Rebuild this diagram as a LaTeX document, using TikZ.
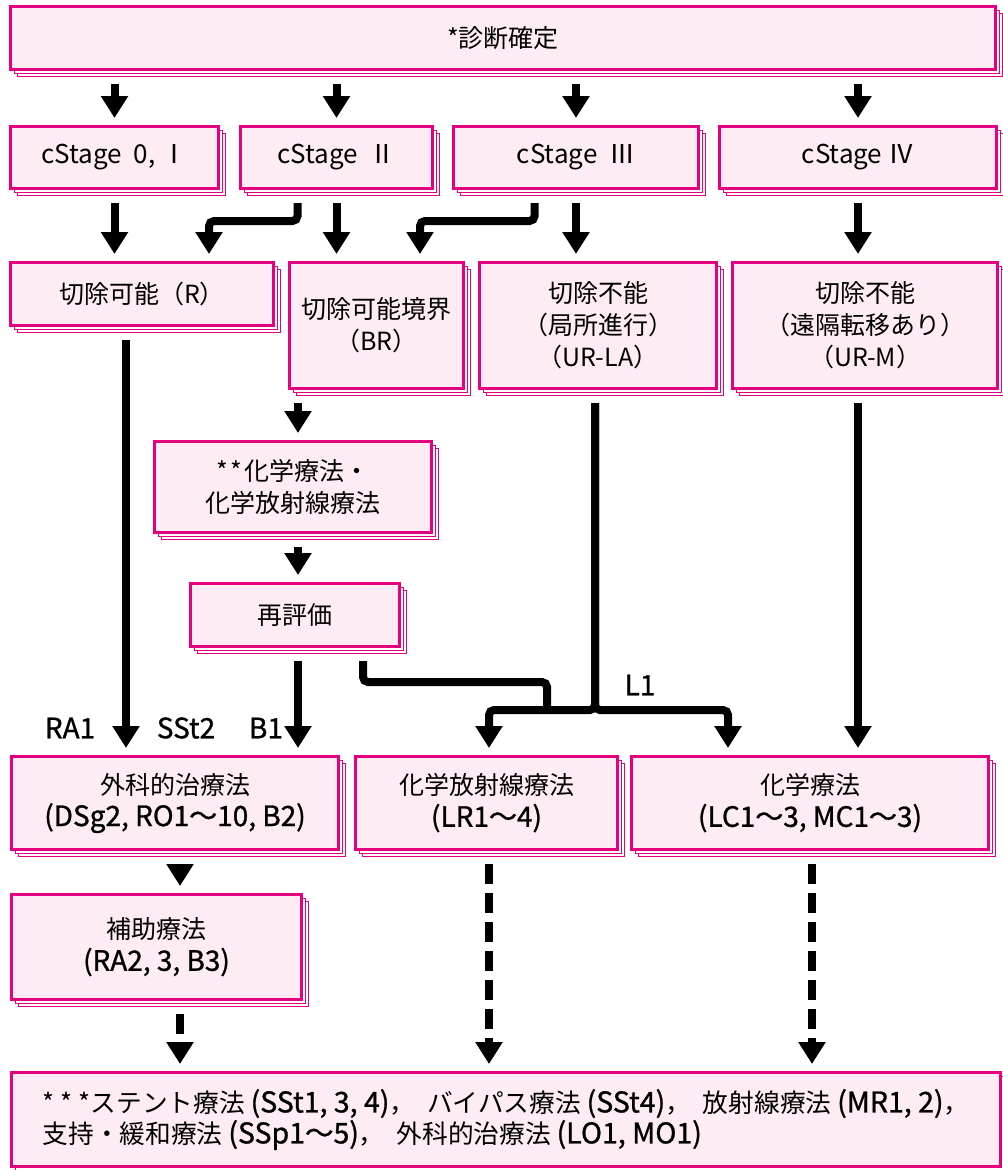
\documentclass[tikz,border=0pt]{standalone}
\usepackage{fontspec}
\setmainfont{Noto Sans CJK JP}
\newfontfamily\jpb{Noto Sans CJK JP}[FakeBold=1]
\newcommand\latb[1]{{\fontsize{28}{32}\selectfont\jpb #1}}
\newcommand\latc[1]{{\fontsize{28.5}{31}\selectfont\jpb #1}}
\usetikzlibrary{arrows.meta,shadows,calc}
\definecolor{pinkc}{HTML}{E4007F}
\definecolor{pinkf}{HTML}{FDECF4}
\begin{document}
\begin{tikzpicture}[x=1pt,y=-1pt,
 pk/.style={draw=pinkc, line width=3pt, fill=pinkf, inner sep=0pt, align=center,
   anchor=north west, font=\fontsize{25}{32}\selectfont,
   copy shadow={shadow xshift=7pt, shadow yshift=-7pt, draw=pinkc, line width=0.9pt, fill=white},
   copy shadow={shadow xshift=3.5pt, shadow yshift=-3.5pt, draw=pinkc, line width=0.9pt, fill=white}},
 stg/.style={pk, font=\fontsize{26}{32}\selectfont},
 arr/.style={line width=8pt, -{Triangle[width=26pt,length=22pt]}, shorten <=13pt, shorten >=7pt},
 seg/.style={line width=8pt, shorten <=13pt},
 darr/.style={arr, dash pattern=on 20pt off 9pt},
 lab/.style={font=\fontsize{28}{30}\selectfont\jpb, inner sep=0pt}
]
\fill[white] (0,0) rectangle (1002,1170);
\useasboundingbox (0,0) rectangle (1002,1170);

% boxes
\node[pk, minimum width=985, minimum height=63] (top) at (9,5) {*診断確定};
\node[stg, minimum width=208, minimum height=62] (s0) at (9,125) {cStage\ \ 0, Ⅰ};
\node[stg, minimum width=192, minimum height=62] (s2) at (239,125) {cStage\ \ Ⅱ};
\node[stg, minimum width=245, minimum height=62] (s3) at (452,125) {cStage\ \ Ⅲ};
\node[stg, minimum width=277, minimum height=62] (s4) at (718,125) {cStage\ Ⅳ};

\node[pk, minimum width=263, minimum height=63] (r) at (9,261) {切除可能（R）};
\node[pk, minimum width=174, minimum height=126] (br) at (288,261) {切除可能境界\\（BR）};
\node[pk, minimum width=237, minimum height=126] (urla) at (478,261) {切除不能\\（局所進行）\\（UR-LA）};
\node[pk, minimum width=265, minimum height=126] (urm) at (731,261) {切除不能\\（遠隔転移あり）\\（UR-M）};

\node[pk, minimum width=277, minimum height=91] (chem) at (153,440) {*\hspace{3pt}*\hspace{2pt}化学療法・\\化学放射線療法};
\node[pk, minimum width=209, minimum height=63] (reev) at (189,582) {再評価};

\node[pk, minimum width=327, minimum height=93] (surg) at (10,755) {外科的治療法\\\latb{(DSg2, RO1～10, B2)}};
\node[pk, minimum width=262, minimum height=93] (lr) at (354,755) {化学放射線療法\\\latb{(LR1～4)}};
\node[pk, minimum width=357, minimum height=93] (ch) at (630,755) {化学療法\\\latb{(LC1～3, MC1～3)}};
\node[pk, minimum width=290, minimum height=105] (aux) at (10,893) {補助療法\\\latb{(RA2, 3, B3)}};

\node[pk, minimum width=989, minimum height=94, align=left, font=\fontsize{25.7}{31}\selectfont] (bot) at (10,1071)
 {*\hspace{6pt}*\hspace{6pt}*ステント療法 \latc{(SSt1, 3, 4)}，\hspace{12pt}バイパス療法 \latc{(SSt4)}，\hspace{12pt}放射線療法 \latc{(MR1, 2)}，\\
  支持・緩和療法 \latc{(SSp1～5)}，\hspace{12pt}外科的治療法 \latc{(LO1, MO1)}};

% helper coordinates
\coordinate (k1) at (209,221);
\coordinate (k2) at (420,221);
\coordinate (vx) at (298,0);
\coordinate (vr) at (126,0);
\coordinate (va) at (180,0);
\coordinate (k3) at (547,682);
\coordinate (bl) at (489,710);
\coordinate (brr) at (728,710);
\coordinate (vj) at (363,0);

% top -> stages
\foreach \n in {s0,s2,s3,s4} \draw[arr] (top.south -| \n.north) -- (\n.north);

% stages -> row 3
\draw[arr] (s0.south) -- (s0.south |- r.north);
\draw[arr, rounded corners=5pt] ([xshift=-39pt]s2.south) |- (k1) -- (k1 |- r.north);
\draw[arr] (s2.south) -- (s2.south |- br.north);
\draw[arr, rounded corners=5pt] ([xshift=-41.5pt]s3.south) |- (k2) -- (k2 |- br.north);
\draw[arr] (s3.south) -- (s3.south |- urla.north);
\draw[arr] (s4.south) -- (s4.south |- urm.north);

% BR chain
\draw[arr] (br.south -| vx) -- (chem.north -| vx);
\draw[arr] (chem.south -| vx) -- (reev.north -| vx);
\draw[arr] (reev.south -| vx) -- (surg.north -| vx);
\draw[seg, rounded corners=5pt] (reev.south -| vj) |- (k3) -- (k3 |- bl);

% UR-LA split
\draw[arr, rounded corners=5pt] (urla.south -| 595,0) |- (bl) -- (bl |- lr.north);
\draw[arr, rounded corners=5pt] (urla.south -| 595,0) |- (brr) -- (brr |- ch.north);

% direct long arrows
\draw[arr] (r.south -| vr) -- (surg.north -| vr);
\draw[arr] (urm.south -| s4.south) -- (ch.north -| s4.south);
\draw[arr] (surg.south -| va) -- (aux.north -| va);

% dashed arrows to bottom
\draw[darr] (aux.south -| va) -- (bot.north -| va);
\draw[darr] (lr.south -| bl) -- (bot.north -| bl);
\draw[darr] (ch.south -| 812,0) -- (bot.north -| 812,0);

% labels
\node[lab] (lra) at (70,728) {RA1};
\node[lab] (lss) at (186,728) {SSt2};
\node[lab] (lb) at (266,728) {B1};
\node[lab] (ll) at (640,685) {L1};
\end{tikzpicture}
\end{document}
